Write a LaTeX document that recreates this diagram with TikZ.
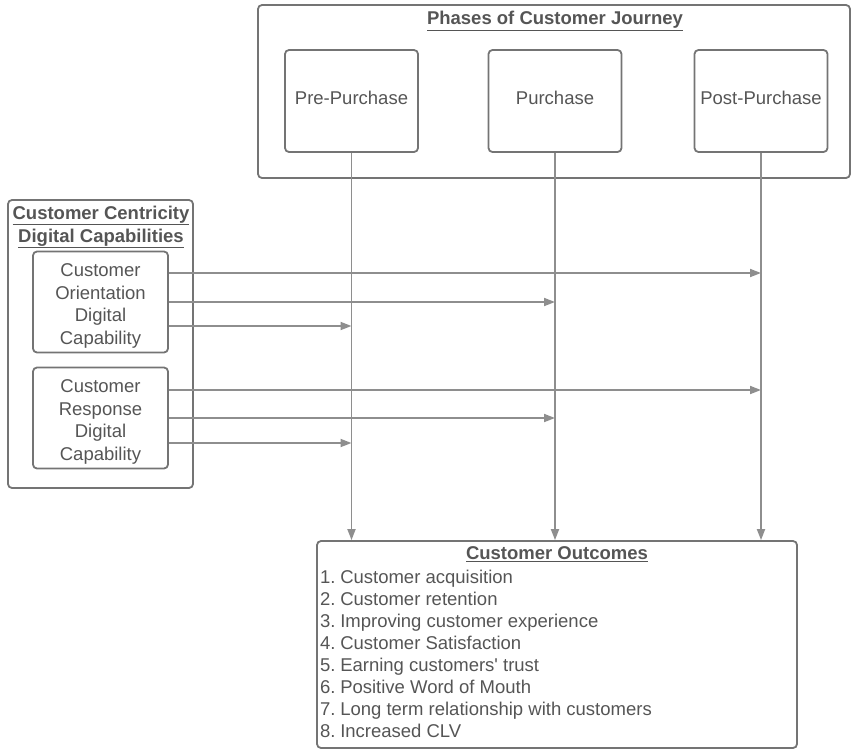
\documentclass[tikz,border=0pt]{standalone}
\usepackage{fontspec}
\setmainfont{Liberation Sans}
\usepackage{xcolor}
\definecolor{colText}{HTML}{555555}
\definecolor{colBox}{HTML}{747474}
\definecolor{colLine}{HTML}{8E8E8E}
\usetikzlibrary{arrows.meta, positioning, calc}
\newcommand{\capstrut}{\rule{0pt}{21pt}}

\begin{document}
\begin{tikzpicture}[x=1pt, y=-1pt,
		box/.style={draw=colBox, line width=1.8pt, rounded corners=4pt,
			text=colText, font=\fontsize{18.5}{22.5}\selectfont, align=center},
		phase/.style={box, minimum width=133pt, minimum height=102pt, text depth=7pt},
		capbox/.style={box, minimum width=135pt, minimum height=101pt, inner sep=0pt},
		ttl/.style={text=colText, font=\fontsize{18.5}{23}\selectfont\bfseries, align=center},
		link/.style={->, draw=colLine, line width=1.8pt},
		>={Triangle[length=11pt, width=8pt]}
	]
	\useasboundingbox (0,0) rectangle (853,750);

	% ===== Phases of the journey =====
	\node[box, minimum width=592pt, minimum height=173pt] (phases) at (554,91.5) {};
	\node[ttl] (phasesT) at (555,21) {\underline{Phases of Customer Journey}};
	\node[phase] (pre)  at (351.5,101) {Pre-Purchase};
	\node[phase] (pur)  at (555,101)   {Purchase};
	\node[phase] (post) at (761,101)   {Post-Purchase};

	% ===== Capabilities on the left =====
	\node[box, minimum width=185pt, minimum height=288pt] (centric) at (100.5,344) {};
	\node[ttl] (centricT) at (101,227) {\underline{Customer Centricity}\\ \underline{Digital Capabilities}};
	\node[capbox] (orient) at (100.5,302) {\capstrut Customer\\ Orientation\\ Digital\\ Capability};
	\node[capbox] (resp)   at (100.5,418) {\capstrut Customer\\ Response\\ Digital\\ Capability};

	% ===== Outcomes =====
	\node[box, minimum width=480pt, minimum height=207pt] (out) at (557,644.5) {};
	\node[ttl] (outT) at (557,554) {\underline{Customer Outcomes}};
	\node[text=colText, font=\fontsize{18.5}{22}\selectfont, align=left,
		anchor=north west, inner sep=0pt] (outL) at (320,570)
		{1.\hspace{0.25em}Customer acquisition\\
		 2.\hspace{0.25em}Customer retention\\
		 3.\hspace{0.25em}Improving customer experience\\
		 4.\hspace{0.25em}Customer Satisfaction\\
		 5.\hspace{0.25em}Earning customers\textquotesingle{} trust\\
		 6.\hspace{0.25em}Positive Word of Mouth\\
		 7.\hspace{0.25em}Long term relationship with customers\\
		 8.\hspace{0.25em}Increased CLV};

	% phases down to the outcomes
	\draw[link] (pre.south)  -- (pre.south |- out.north);
	\draw[link] (pur.south)  -- (pur.south |- out.north);
	\draw[link] (post.south) -- (post.south |- out.north);

	% capabilities into each phase
	\draw[link] ([yshift=29pt]orient.east) -- ([yshift=29pt]orient.east -| post.south);
	\draw[link] (orient.east) -- (orient.east -| pur.south);
	\draw[link] ([yshift=-24pt]orient.east) -- ([yshift=-24pt]orient.east -| pre.south);
	\draw[link] ([yshift=28pt]resp.east) -- ([yshift=28pt]resp.east -| post.south);
	\draw[link] (resp.east) -- (resp.east -| pur.south);
	\draw[link] ([yshift=-25pt]resp.east) -- ([yshift=-25pt]resp.east -| pre.south);
\end{tikzpicture}
\end{document}
